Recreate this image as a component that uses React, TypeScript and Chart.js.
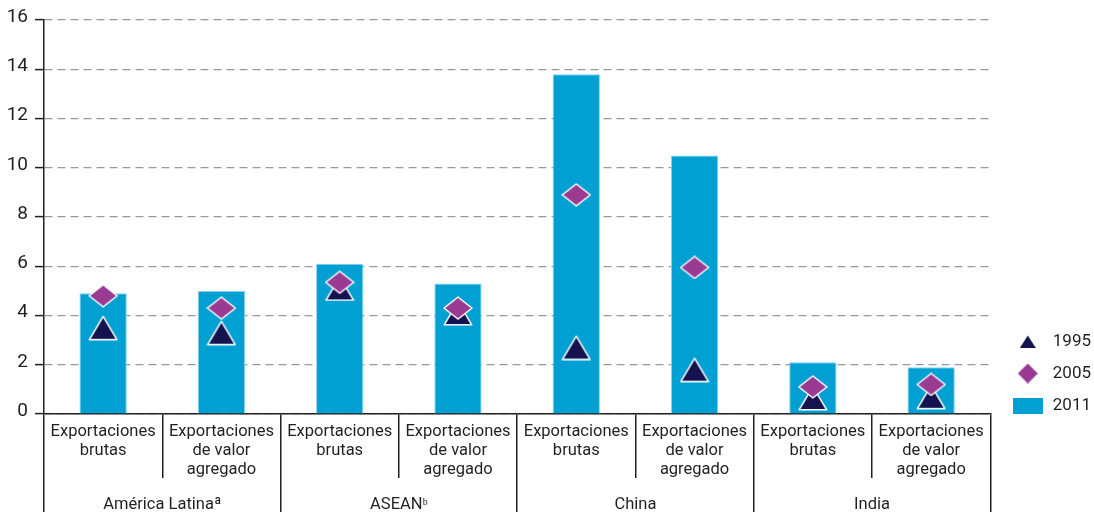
import React, { useEffect, useRef } from "react";
import { Chart, registerables } from "chart.js";

Chart.register(...registerables);

// ---- data ----
const categories: string[][] = [
  ["Exportaciones", "brutas"],
  ["Exportaciones", "de valor", "agregado"],
  ["Exportaciones", "brutas"],
  ["Exportaciones", "de valor", "agregado"],
  ["Exportaciones", "brutas"],
  ["Exportaciones", "de valor", "agregado"],
  ["Exportaciones", "brutas"],
  ["Exportaciones", "de valor", "agregado"],
];
const groups: string[] = ["América Latinaª", "ASEANᵇ", "China", "India"];
const seriesNames: string[] = ["1995", "2005", "2011"];
const values1995: number[] = [3.5, 3.3, 5.1, 4.1, 2.7, 1.8, 0.65, 0.7];
const values2005: number[] = [4.8, 4.3, 5.35, 4.3, 8.9, 5.95, 1.1, 1.2];
const values2011: number[] = [4.9, 5.0, 6.1, 5.3, 13.8, 10.5, 2.1, 1.9];
const yTicks: number[] = [0, 2, 4, 6, 8, 10, 12, 14, 16];

// ---- styles ----
const NAVY = "#14134f";
const PURPLE = "#9b3a93";
const BLUE = "#00a0d2";
const TEXT = "#231f20";
const LINE = "#231f20";

function triangleImg(w: number, h: number, stroke: boolean) {
  const c = document.createElement("canvas");
  c.width = w;
  c.height = h;
  const ctx = c.getContext("2d")!;
  const p = stroke ? 1.2 : 0;
  ctx.beginPath();
  ctx.moveTo(w / 2, p + 0.5);
  ctx.lineTo(w - p, h - p);
  ctx.lineTo(p, h - p);
  ctx.closePath();
  ctx.fillStyle = NAVY;
  ctx.fill();
  if (stroke) {
    ctx.strokeStyle = "#ffffff";
    ctx.lineWidth = 1.5;
    ctx.lineJoin = "round";
    ctx.stroke();
  }
  return c;
}

function diamondImg(w: number, h: number, stroke: boolean) {
  const c = document.createElement("canvas");
  c.width = w;
  c.height = h;
  const ctx = c.getContext("2d")!;
  const p = stroke ? 1 : 0;
  ctx.beginPath();
  ctx.moveTo(w / 2, p);
  ctx.lineTo(w - p, h / 2);
  ctx.lineTo(w / 2, h - p);
  ctx.lineTo(p, h / 2);
  ctx.closePath();
  ctx.fillStyle = PURPLE;
  ctx.fill();
  if (stroke) {
    ctx.strokeStyle = "#ffffff";
    ctx.lineWidth = 1.5;
    ctx.lineJoin = "round";
    ctx.stroke();
  }
  return c;
}

function rectImg(w: number, h: number) {
  const c = document.createElement("canvas");
  c.width = w;
  c.height = h;
  const ctx = c.getContext("2d")!;
  ctx.fillStyle = BLUE;
  ctx.fillRect(0, 0, w, h);
  return c;
}

export default function App() {
  const ref = useRef<HTMLCanvasElement | null>(null);

  useEffect(() => {
    document.body.style.margin = "0";
    if (!ref.current) return;

    const tri = triangleImg(30, 26, true);
    const dia = diamondImg(30, 24, true);
    const triL = triangleImg(16, 13, false);
    const diaL = diamondImg(20, 20, false);
    const rectL = rectImg(30, 16);

    const chart = new Chart(ref.current, {
      type: "bar",
      data: {
        labels: categories,
        datasets: [
          {
            type: "line",
            label: seriesNames[0],
            data: values1995,
            showLine: false,
            pointStyle: tri as any,
            pointRadius: 14,
            order: 2,
            xAxisID: "x",
            yAxisID: "y",
          } as any,
          {
            type: "line",
            label: seriesNames[1],
            data: values2005,
            showLine: false,
            pointStyle: dia as any,
            pointRadius: 14,
            order: 1,
            xAxisID: "x",
            yAxisID: "y",
          } as any,
          {
            type: "bar",
            label: seriesNames[2],
            data: values2011,
            backgroundColor: BLUE,
            borderColor: "#86d2ee",
            borderWidth: 1,
            barPercentage: 0.4,
            categoryPercentage: 1,
            order: 3,
            xAxisID: "x",
            yAxisID: "y",
          },
        ],
      },
      options: {
        responsive: false,
        animation: false,
        devicePixelRatio: 1,
        layout: { padding: { top: 20, right: -7, bottom: 5, left: 0 } },
        plugins: {
          tooltip: { enabled: false },
          legend: {
            position: "right",
            align: "end",
            fullSize: false,
            labels: {
              usePointStyle: true,
              pointStyleWidth: 33,
              padding: 0,
              color: TEXT,
              font: { family: "Roboto", size: 17, lineHeight: "32px" },
              generateLabels: () => [
                { text: [seriesNames[0]] as any, pointStyle: triL as any, fillStyle: NAVY, strokeStyle: NAVY, lineWidth: 0, hidden: false, datasetIndex: 0, fontColor: TEXT },
                { text: [seriesNames[1]] as any, pointStyle: diaL as any, fillStyle: PURPLE, strokeStyle: PURPLE, lineWidth: 0, hidden: false, datasetIndex: 1, fontColor: TEXT },
                { text: seriesNames[2], pointStyle: rectL as any, fillStyle: BLUE, strokeStyle: BLUE, lineWidth: 0, hidden: false, datasetIndex: 2, fontColor: TEXT },
              ],
            },
          },
        },
        scales: {
          x: {
            type: "category",
            position: "bottom",
            offset: true,
            grid: {
              display: true,
              drawOnChartArea: false,
              drawTicks: true,
              tickLength: 64,
              color: LINE,
              lineWidth: 1.5,
              offset: true,
            },
            border: { display: true, color: LINE, width: 1.5 },
            ticks: {
              padding: -55.5,
              autoSkip: false,
              maxRotation: 0,
              color: TEXT,
              font: { family: "Roboto", size: 16.5, lineHeight: "19px" },
            },
            afterFit: (s: any) => {
              s.height = 64;
            },
          },
          x2: {
            type: "category",
            labels: groups,
            position: "bottom",
            offset: true,
            grid: {
              display: true,
              drawOnChartArea: false,
              drawTicks: true,
              tickLength: 34,
              color: LINE,
              lineWidth: 1.5,
              offset: true,
            },
            border: { display: false },
            ticks: {
              padding: -16.5,
              autoSkip: false,
              maxRotation: 0,
              color: TEXT,
              font: { family: "Roboto", size: 16.5, lineHeight: "19px" },
            },
            afterFit: (s: any) => {
              s.height = 34;
            },
          },
          y: {
            type: "linear",
            position: "left",
            min: yTicks[0],
            max: yTicks[yTicks.length - 1],
            afterBuildTicks: (s: any) => {
              s.ticks = yTicks.map((v) => ({ value: v }));
            },
            grid: {
              color: "#9a9a9a",
              lineWidth: 1.2,
              tickLength: 9,
              tickColor: LINE,
              tickWidth: 1.5,
              tickBorderDash: [],
            },
            border: { display: true, color: LINE, width: 1.5, dash: [8, 5] },
            ticks: {
              padding: 7,
              labelOffset: -3,
              color: TEXT,
              font: { family: "Roboto", size: 19 },
            },
            afterFit: (s: any) => {
              s.width = 44;
            },
          },
          yR: {
            type: "linear",
            position: "right",
            display: true,
            grid: { display: false, drawTicks: false },
            border: { display: false },
            ticks: { display: false },
            afterFit: (s: any) => {
              s.width = 21;
            },
          },
        },
      } as any,
    });

    return () => chart.destroy();
  }, []);

  return (
    <div style={{ width: 1094, height: 517 }}>
      <canvas ref={ref} width={1094} height={517} />
    </div>
  );
}
